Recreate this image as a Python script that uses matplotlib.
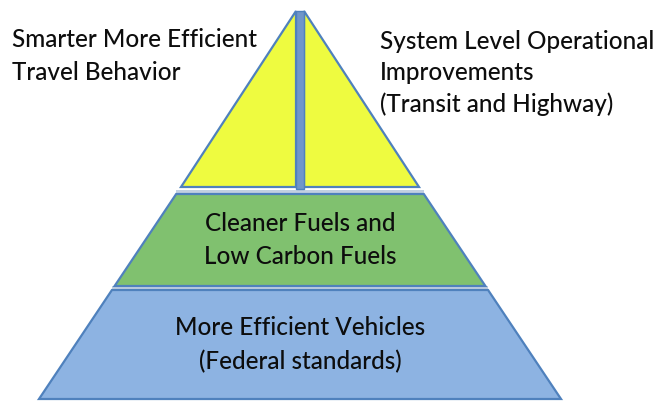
import matplotlib.pyplot as plt
from matplotlib.patches import Polygon, Rectangle

# pyramid outline (pixel space of the original picture)
apex = (300, 10)
base_y = 400
base_half = 261

# tiers: top y, bottom y, face colour, label lines
tier_names = ['Cleaner Fuels and\nLow Carbon Fuels',
              'More Efficient Vehicles\n(Federal standards)']
tier_top = [195, 291]
tier_bot = [287, 400]
tier_color = ['#80c16f', '#8db3e2']

top_split = 188          # bottom of the yellow apex pieces
side_labels = ['Smarter More Efficient\nTravel Behavior',
               'System Level Operational\nImprovements\n(Transit and Highway)']

edge = '#4f81bd'
yellow = '#eefb40'
ink = '#0d0d0d'
fs = 17.5


def half_width(y):
    return base_half * (y - apex[1]) / (base_y - apex[1])


fig = plt.figure(figsize=(6.65, 4.02), dpi=100)
ax = fig.add_axes([0, 0, 1, 1])
ax.set_xlim(0, 665)
ax.set_ylim(402, 0)
ax.axis('off')
plt.rcParams['font.family'] = ['Lato', 'DejaVu Sans']

cx = apex[0]

# two yellow apex halves and the divider between them
gap = 4
wl = half_width(top_split)
ax.add_patch(Polygon([(cx - gap, apex[1] + 2), (cx - gap, top_split),
                      (cx - wl, top_split)], closed=True,
                     fc=yellow, ec=edge, lw=1.6, zorder=2))
ax.add_patch(Polygon([(cx + gap, apex[1] + 2), (cx + gap, top_split),
                      (cx + wl, top_split)], closed=True,
                     fc=yellow, ec=edge, lw=1.6, zorder=2))
ax.add_patch(Rectangle((cx - gap, apex[1] + 2), 2 * gap, top_split - apex[1],
                       fc='#7096c9', ec=edge, lw=1.0, zorder=3))

# lower tiers with a soft shadow
for name, t, b, c in zip(tier_names, tier_top, tier_bot, tier_color):
    wt, wb = half_width(t), half_width(b)
    shadow = [(cx - wt, t - 4), (cx + wt, t - 4), (cx + wt, t), (cx - wt, t)]
    ax.add_patch(Polygon(shadow, closed=True, fc='#a9bcd6', ec='none',
                         alpha=0.7, zorder=1))
    ax.add_patch(Polygon([(cx - wt, t), (cx + wt, t), (cx + wb, b), (cx - wb, b)],
                         closed=True, fc=c, ec=edge, lw=1.6, zorder=2))
    ax.text(cx, (t + b) / 2 - 1, name, ha='center', va='center',
            fontsize=fs, linespacing=1.55, color=ink, weight=500, zorder=4)

ax.text(12, 56, side_labels[0], ha='left', va='center', fontsize=fs,
        linespacing=1.55, color=ink, weight=500)
ax.text(380, 73, side_labels[1], ha='left', va='center', fontsize=fs,
        linespacing=1.45, color=ink, weight=500)

fig.savefig('out.png', dpi=100)
